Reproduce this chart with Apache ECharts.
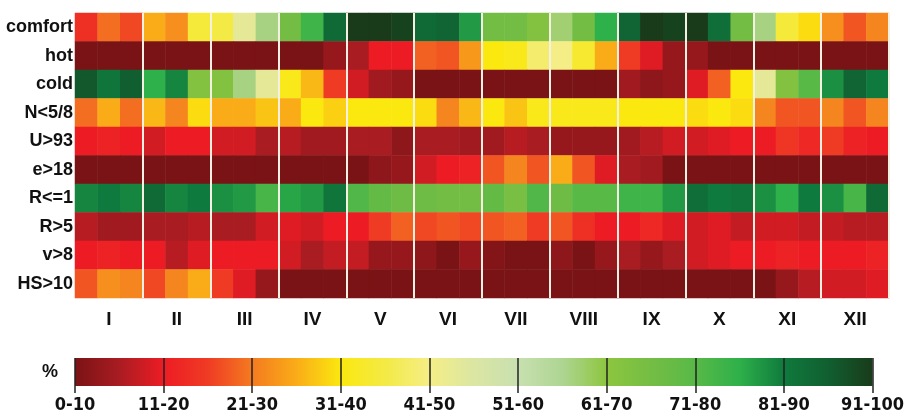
<!DOCTYPE html>
<html>
<head>
<meta charset="utf-8">
<script src="https://cdn.jsdelivr.net/npm/echarts@6/dist/echarts.min.js"></script>
<style>
  html, body { margin: 0; padding: 0; background: #ffffff; }
  #chart { width: 907px; height: 414px; }
</style>
</head>
<body>
<div id="chart"></div>
<script>
// Month columns, each split into three dekads
const months = ['I', 'II', 'III', 'IV', 'V', 'VI', 'VII', 'VIII', 'IX', 'X', 'XI', 'XII'];
const dekadsPerMonth = 3;

// Row labels, top to bottom
const rows = ['comfort', 'hot', 'cold', 'N<5/8', 'U>93', 'e>18', 'R<=1', 'R>5', 'v>8', 'HS>10'];

// Frequency (%) per dekad, January to December
const comfort = [18, 24, 21, 30, 27, 39, 40, 48, 61, 70, 78, 88, 95, 95, 94, 88, 89, 82, 70, 70, 67, 62, 70, 80, 89, 95, 94, 95, 87, 70, 61, 39, 34, 27, 22, 26];
const hot     = [3, 3, 3, 3, 3, 3, 3, 3, 3, 3, 3, 8, 10, 15, 15, 23, 22, 28, 35, 36, 43, 45, 38, 30, 20, 14, 8, 8, 3, 3, 3, 3, 3, 3, 3, 3];
const cold    = [91, 86, 90, 80, 84, 67, 67, 61, 48, 36, 31, 20, 13, 9, 8, 3, 3, 3, 3, 3, 3, 3, 3, 3, 9, 7, 8, 14, 23, 35, 48, 67, 75, 83, 89, 85];
const cloud   = [24, 30, 24, 31, 26, 34, 30, 30, 32, 30, 35, 33, 35, 35, 35, 34, 26, 31, 35, 32, 36, 36, 36, 36, 35, 35, 35, 34, 35, 34, 26, 22, 22, 26, 22, 26];
const humid   = [15, 16, 15, 13, 15, 15, 13, 13, 10, 11, 9, 9, 10, 10, 7, 10, 10, 9, 9, 11, 10, 8, 8, 8, 9, 11, 13, 13, 14, 15, 15, 19, 17, 20, 16, 15];
const vapour  = [3, 3, 3, 3, 3, 3, 3, 3, 3, 3, 3, 3, 4, 7, 8, 13, 15, 16, 22, 26, 22, 30, 22, 14, 10, 9, 4, 3, 3, 3, 3, 3, 3, 3, 3, 3];
const dry     = [84, 85, 84, 88, 84, 85, 83, 82, 77, 81, 82, 86, 76, 73, 71, 71, 70, 70, 73, 69, 76, 71, 75, 75, 78, 78, 82, 87, 85, 86, 83, 80, 85, 83, 77, 88];
const rain    = [11, 9, 9, 10, 10, 11, 10, 10, 13, 14, 13, 15, 15, 20, 23, 21, 22, 21, 22, 23, 20, 22, 18, 15, 15, 17, 14, 13, 14, 12, 13, 13, 12, 12, 11, 11];
const wind    = [15, 16, 15, 15, 11, 14, 15, 15, 15, 13, 10, 12, 12, 8, 8, 7, 4, 8, 6, 4, 4, 7, 4, 8, 10, 8, 10, 13, 14, 15, 15, 16, 15, 15, 15, 16];
const snow    = [22, 27, 26, 21, 26, 30, 20, 14, 8, 4, 2, 3, 3, 3, 3, 3, 3, 3, 3, 3, 3, 3, 3, 3, 3, 3, 3, 3, 3, 3, 3, 8, 11, 13, 13, 14];
const rowValues = [comfort, hot, cold, cloud, humid, vapour, dry, rain, wind, snow];

// Legend classes
const classLabels = ['0-10', '11-20', '21-30', '31-40', '41-50', '51-60', '61-70', '71-80', '81-90', '91-100'];

// Colour ramp from dark red through yellow to dark green (class centres and midpoints)
const ramp = [
  '#7a1315', '#a91c22', '#ed1c24', '#ef3b24', '#f47b20', '#faac18', '#fbe80f', '#f3ea45',
  '#f5ee86', '#dbe6a3', '#c8e0b0', '#aed592', '#8dc63f', '#74bd44', '#58b947', '#2eb04a',
  '#0f7a3d', '#115f30', '#193b1a'
];

const dekads = [];
months.forEach(m => { for (let d = 1; d <= dekadsPerMonth; d++) dekads.push(m + '-' + d); });

const cells = [];
rowValues.forEach((vals, r) => vals.forEach((v, c) => cells.push([c, r, v])));

const chart = echarts.init(document.getElementById('chart'), null, { renderer: 'canvas' });

const labelFont = '"Liberation Sans", Arial, sans-serif';
const narrowFont = '"Liberation Sans Narrow", "DejaVu Sans Condensed", "Liberation Sans", sans-serif';

chart.setOption({
  backgroundColor: '#ffffff',
  animation: false,
  grid: [
    { left: 75, top: 13, width: 814, height: 285 },
    { left: 75, top: 358, width: 798, height: 28 }
  ],
  xAxis: [
    {
      type: 'category',
      gridIndex: 0,
      data: dekads,
      z: 5,
      axisLine: { show: false },
      axisTick: { show: false },
      axisLabel: {
        interval: (i) => i % dekadsPerMonth === 1,
        formatter: (v) => v.split('-')[0],
        margin: 12,
        fontFamily: labelFont,
        fontWeight: 'bold',
        fontSize: 19,
        color: '#111'
      },
      splitLine: {
        show: true,
        interval: (i) => i > 0 && i % dekadsPerMonth === 0,
        lineStyle: { color: '#f4f0e4', width: 2 }
      }
    },
    {
      type: 'value',
      gridIndex: 1,
      min: 0,
      max: classLabels.length - 1,
      interval: 1,
      z: 5,
      axisLine: { show: false },
      axisTick: { show: true, length: 7, lineStyle: { color: '#222', width: 1.5 } },
      axisLabel: {
        margin: 10,
        formatter: (v) => classLabels[v] || '',
        fontFamily: narrowFont,
        fontWeight: 'bold',
        fontSize: 18,
        color: '#111'
      },
      splitLine: { show: true, lineStyle: { color: '#222', width: 1.5 } }
    }
  ],
  yAxis: [
    {
      type: 'category',
      gridIndex: 0,
      data: rows,
      inverse: true,
      axisLine: { show: false },
      axisTick: { show: false },
      splitLine: { show: false },
      axisLabel: {
        margin: 2,
        fontFamily: labelFont,
        fontWeight: 'bold',
        fontSize: 18,
        color: '#111'
      }
    },
    {
      type: 'category',
      gridIndex: 1,
      data: ['%'],
      axisLine: { show: false },
      axisTick: { show: false },
      axisLabel: {
        margin: 17,
        fontFamily: labelFont,
        fontWeight: 'bold',
        fontSize: 18,
        color: '#111'
      }
    }
  ],
  visualMap: {
    show: false,
    type: 'continuous',
    seriesIndex: 0,
    min: 5,
    max: 95,
    inRange: { color: ramp }
  },
  series: [
    {
      type: 'heatmap',
      xAxisIndex: 0,
      yAxisIndex: 0,
      data: cells,
      itemStyle: { borderWidth: 0 },
      emphasis: { disabled: true }
    },
    {
      // colour scale bar spanning all legend classes
      type: 'bar',
      xAxisIndex: 1,
      yAxisIndex: 1,
      barWidth: '100%',
      silent: true,
      data: [classLabels.length - 1],
      itemStyle: {
        color: new echarts.graphic.LinearGradient(0, 0, 1, 0,
          ramp.map((c, i) => ({ offset: i / (ramp.length - 1), color: c })))
      }
    }
  ]
});
</script>
</body>
</html>
